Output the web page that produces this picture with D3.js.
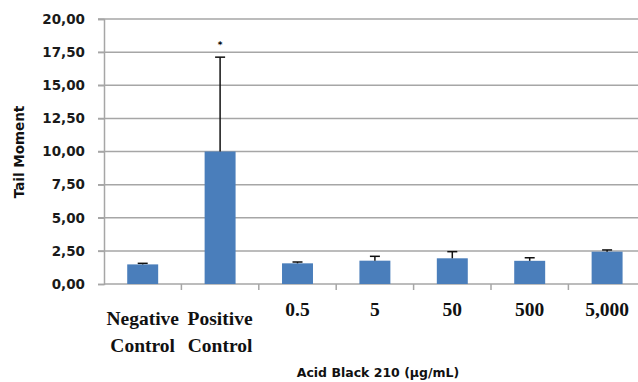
<!DOCTYPE html>
<html><head><meta charset="utf-8">
<script src="https://cdn.jsdelivr.net/npm/d3@7"></script>
<style>body{margin:0;background:#fff}svg{display:block}</style>
</head><body>
<script>
const categories = [["Negative","Control"],["Positive","Control"],["0.5"],["5"],["50"],["500"],["5,000"]];
const means = [1.48, 10.0, 1.56, 1.76, 1.94, 1.75, 2.44];
const upperErr = [0.08, 7.12, 0.10, 0.33, 0.50, 0.23, 0.13];
const yTicks = [0, 2.5, 5, 7.5, 10, 12.5, 15, 17.5, 20];
const yTickLabels = ["0,00","2,50","5,00","7,50","10,00","12,50","15,00","17,50","20,00"];
const sigMarks = ["", "*", "", "", "", "", ""];

const W = 638, H = 382;
const svg = d3.select("body").append("svg").attr("width", W).attr("height", H);
const x0 = 104, step = 77.4;
const x = d3.scaleBand().domain(d3.range(categories.length)).range([x0, x0 + step * categories.length]).paddingInner(0.6).paddingOuter(0.3);
const y = d3.scaleLinear().domain([0, 20]).range([284, 19]);

// gridlines
svg.append("g").selectAll("line").data(yTicks.slice(1)).join("line")
  .attr("x1", 98).attr("x2", W).attr("y1", d => y(d)).attr("y2", d => y(d))
  .attr("stroke", "#a6a6a6").attr("stroke-width", 1.5);

// y axis
const yAxis = d3.axisLeft(y).tickValues(yTicks).tickFormat((d, i) => yTickLabels[i]).tickSize(6).tickPadding(13);
const gy = svg.append("g").attr("transform", `translate(${x0},0)`).call(yAxis);
gy.select(".domain").attr("stroke", "#a6a6a6").attr("stroke-width", 1.5);
gy.selectAll(".tick line").attr("stroke", "#a6a6a6").attr("stroke-width", 1.5);
gy.selectAll("text").attr("font-family", "DejaVu Sans").attr("font-weight", "bold").attr("font-size", 13.5).attr("fill", "#1a1a1a");

// x axis line & ticks at band boundaries
svg.append("line").attr("x1", x0).attr("x2", W).attr("y1", y(0)).attr("y2", y(0)).attr("stroke", "#a6a6a6").attr("stroke-width", 1.5);
svg.append("g").selectAll("line").data(d3.range(1, categories.length + 1)).join("line")
  .attr("x1", i => x0 + i * step).attr("x2", i => x0 + i * step)
  .attr("y1", y(0)).attr("y2", y(0) + 6).attr("stroke", "#a6a6a6").attr("stroke-width", 1.5);

// bars
svg.append("g").selectAll("rect").data(means).join("rect")
  .attr("x", (d, i) => x(i)).attr("width", x.bandwidth())
  .attr("y", d => y(d)).attr("height", d => y(0) - y(d))
  .attr("fill", "#4a7ebb");

// error bars
const eb = svg.append("g").attr("stroke", "#111").attr("stroke-width", 1.5);
means.forEach((m, i) => {
  const cx = x(i) + x.bandwidth() / 2;
  eb.append("line").attr("x1", cx).attr("x2", cx).attr("y1", y(m)).attr("y2", y(m + upperErr[i]));
  eb.append("line").attr("x1", cx - 5).attr("x2", cx + 5).attr("y1", y(m + upperErr[i])).attr("y2", y(m + upperErr[i]));
});

// significance marks
svg.append("g").selectAll("text").data(sigMarks).join("text")
  .attr("x", (d, i) => x(i) + x.bandwidth() / 2)
  .attr("y", (d, i) => y(means[i] + upperErr[i]) - 9)
  .attr("text-anchor", "middle").attr("font-family", "DejaVu Sans").attr("font-size", 9).attr("font-weight", "bold")
  .text(d => d);

// x labels
const xl = svg.append("g").attr("font-family", "Liberation Serif").attr("font-weight", "bold").attr("font-size", 19.5).attr("fill", "#111");
categories.forEach((lines, i) => {
  const cx = x(i) + x.bandwidth() / 2;
  if (lines.length === 1) {
    xl.append("text").attr("x", cx).attr("y", 316).attr("text-anchor", "middle").text(lines[0]);
  } else {
    xl.append("text").attr("x", cx).attr("y", 325).attr("text-anchor", "middle").text(lines[0]);
    xl.append("text").attr("x", cx).attr("y", 352).attr("text-anchor", "middle").text(lines[1]);
  }
});

// axis titles
svg.append("text").attr("transform", "translate(24,152) rotate(-90)").attr("text-anchor", "middle")
  .attr("font-family", "DejaVu Sans").attr("font-weight", "bold").attr("font-size", 13.5).attr("fill", "#111").text("Tail Moment");
svg.append("text").attr("x", 378).attr("y", 377).attr("text-anchor", "middle")
  .attr("font-family", "DejaVu Sans").attr("font-weight", "bold").attr("font-size", 12.5).attr("fill", "#111").text("Acid Black 210 (μg/mL)");
</script>
</body></html>
